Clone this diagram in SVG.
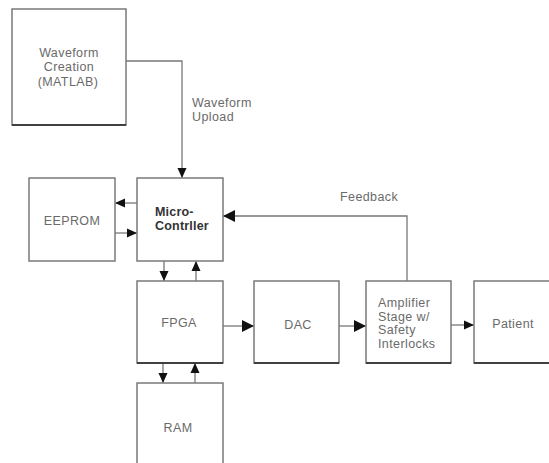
<svg xmlns="http://www.w3.org/2000/svg" width="549" height="463" viewBox="0 0 549 463">
<defs>
<style>
.box{fill:#fff;stroke:#7a7a7a;stroke-width:1.5}
.base{stroke:#222;stroke-width:1.5}
.t{font-family:"Liberation Sans",Arial,sans-serif;font-size:12.5px;fill:#6a6a6a;letter-spacing:0.4px}
.c{text-anchor:middle}
.dk{fill:#333;font-weight:bold;letter-spacing:0.2px}
.ln{fill:none;stroke:#777;stroke-width:1.3}
</style>
<marker id="a" markerUnits="userSpaceOnUse" markerWidth="10" markerHeight="10" viewBox="0 0 10 10" refX="10" refY="5" orient="auto">
<path d="M0,0.5 L10,5 L0,9.5 Z" fill="#111"/>
</marker>
<marker id="b" markerUnits="userSpaceOnUse" markerWidth="12" markerHeight="12" viewBox="0 0 10 10" refX="10" refY="5" orient="auto">
<path d="M0,0 L10,5 L0,10 Z" fill="#111"/>
</marker>
</defs>
<rect width="549" height="463" fill="#fff"/>
<g id="connectors">
<path class="ln" d="M126,61 H182 V178" marker-end="url(#a)"/>
<path class="ln" d="M137,203 H115" marker-end="url(#a)"/>
<path class="ln" d="M115,233 H137" marker-end="url(#a)"/>
<path class="ln" d="M164,261 V281" marker-end="url(#a)"/>
<path class="ln" d="M196,281 V261" marker-end="url(#a)"/>
<path class="ln" d="M223,326 H254" marker-end="url(#b)"/>
<path class="ln" d="M339,326 H366" marker-end="url(#b)"/>
<path class="ln" d="M451,325 H474" marker-end="url(#a)"/>
<path class="ln" d="M407,281 V216 H223" marker-end="url(#b)"/>
<path class="ln" d="M163,363 V383" marker-end="url(#a)"/>
<path class="ln" d="M195,383 V363" marker-end="url(#a)"/>
<text class="t" x="192" y="107">Waveform</text>
<text class="t" x="192" y="121">Upload</text>
<text class="t" x="340" y="201">Feedback</text>
</g>
<g id="waveform">
<rect class="box" x="12" y="9" width="114" height="116"/>
<line class="base" x1="12" y1="125" x2="126" y2="125"/>
<text class="t c" x="69" y="57">Waveform</text>
<text class="t c" x="69" y="71">Creation</text>
<text class="t c" x="68" y="86">(MATLAB)</text>
</g>
<g id="eeprom">
<rect class="box" x="29" y="178" width="86" height="83"/>
<text class="t c" x="72" y="225">EEPROM</text>
</g>
<g id="micro">
<rect class="box" x="137" y="178" width="86" height="83"/>
<text class="t dk" x="155" y="216">Micro-</text>
<text class="t dk" x="155" y="230">Contrller</text>
</g>
<g id="fpga">
<rect class="box" x="137" y="281" width="86" height="82"/>
<line class="base" x1="137" y1="363" x2="223" y2="363"/>
<text class="t c" x="179" y="327">FPGA</text>
</g>
<g id="dac">
<rect class="box" x="254" y="281" width="85" height="82"/>
<line class="base" x1="254" y1="363" x2="339" y2="363"/>
<text class="t c" x="298" y="329">DAC</text>
</g>
<g id="amplifier">
<rect class="box" x="366" y="281" width="85" height="82"/>
<line class="base" x1="366" y1="363" x2="451" y2="363"/>
<text class="t" x="378" y="307">Amplifier</text>
<text class="t" x="378" y="321">Stage w/</text>
<text class="t" x="378" y="334">Safety</text>
<text class="t" x="378" y="348">Interlocks</text>
</g>
<g id="patient">
<rect class="box" x="474" y="281" width="90" height="82"/>
<line class="base" x1="474" y1="363" x2="549" y2="363"/>
<text class="t c" x="513" y="328">Patient</text>
</g>
<g id="ram">
<rect class="box" x="137" y="383" width="86" height="100"/>
<text class="t c" x="178" y="432">RAM</text>
</g>
</svg>
